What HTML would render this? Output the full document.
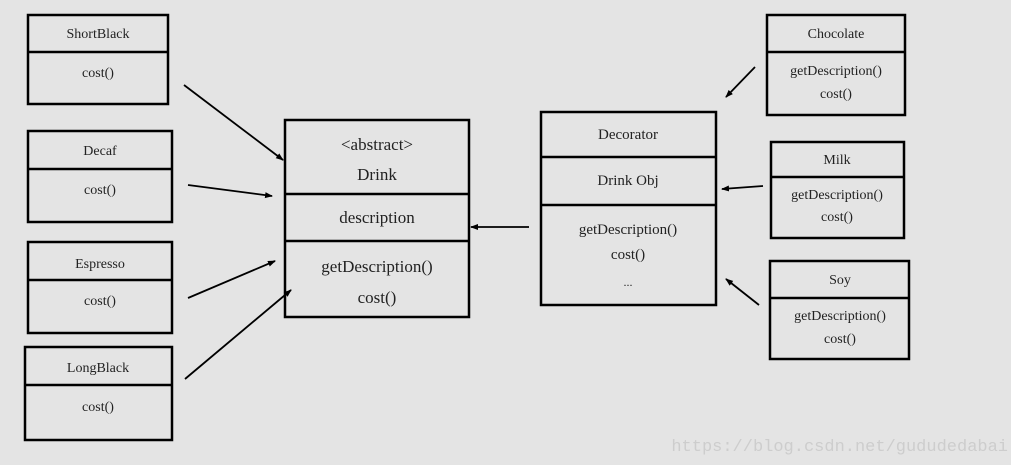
<!DOCTYPE html>
<html><head><meta charset="utf-8"><style>
html,body{margin:0;padding:0;background:#e4e4e4;}
svg{display:block}
text{font-family:"Liberation Serif",serif;fill:#222;text-anchor:middle}
</style></head><body>
<svg width="1011" height="465" viewBox="0 0 1011 465" xmlns="http://www.w3.org/2000/svg">
<rect width="1011" height="465" fill="#e4e4e4"/>
<defs><marker id="a" markerWidth="8" markerHeight="8" refX="7" refY="4" orient="auto" markerUnits="userSpaceOnUse"><path d="M0,1 L8,4 L0,7 Z" fill="#000"/></marker></defs>
<g fill="none" stroke="#000" stroke-width="2.5">
<rect x="28" y="15" width="140" height="89"/><line x1="28" y1="52" x2="168" y2="52"/>
<rect x="28" y="131" width="144" height="91"/><line x1="28" y1="169" x2="172" y2="169"/>
<rect x="28" y="242" width="144" height="91"/><line x1="28" y1="280" x2="172" y2="280"/>
<rect x="25" y="347" width="147" height="93"/><line x1="25" y1="385" x2="172" y2="385"/>
<rect x="285" y="120" width="184" height="197"/><line x1="285" y1="194" x2="469" y2="194"/><line x1="285" y1="241" x2="469" y2="241"/>
<rect x="541" y="112" width="175" height="193"/><line x1="541" y1="157" x2="716" y2="157"/><line x1="541" y1="205" x2="716" y2="205"/>
<rect x="767" y="15" width="138" height="100"/><line x1="767" y1="52" x2="905" y2="52"/>
<rect x="771" y="142" width="133" height="96"/><line x1="771" y1="177" x2="904" y2="177"/>
<rect x="770" y="261" width="139" height="98"/><line x1="770" y1="298" x2="909" y2="298"/>
</g>
<g stroke="#000" stroke-width="1.8" marker-end="url(#a)">
<line x1="184" y1="85" x2="283" y2="160"/>
<line x1="188" y1="185" x2="272" y2="196"/>
<line x1="188" y1="298" x2="275" y2="261"/>
<line x1="185" y1="379" x2="291" y2="290"/>
<line x1="529" y1="227" x2="471" y2="227"/>
<line x1="755" y1="67" x2="726" y2="97"/>
<line x1="763" y1="186" x2="722" y2="189"/>
<line x1="759" y1="305" x2="726" y2="279"/>
</g>
<g font-size="14">
<text x="98" y="38">ShortBlack</text><text x="98" y="77">cost()</text>
<text x="100" y="155">Decaf</text><text x="100" y="194">cost()</text>
<text x="100" y="268">Espresso</text><text x="100" y="305">cost()</text>
<text x="98" y="372">LongBlack</text><text x="98" y="411">cost()</text>
<text x="836" y="38">Chocolate</text><text x="836" y="75">getDescription()</text><text x="836" y="98">cost()</text>
<text x="837" y="164">Milk</text><text x="837" y="199">getDescription()</text><text x="837" y="221">cost()</text>
<text x="840" y="284">Soy</text><text x="840" y="320">getDescription()</text><text x="840" y="343">cost()</text>
</g>
<g font-size="17">
<text x="377" y="150">&lt;abstract&gt;</text><text x="377" y="180">Drink</text>
<text x="377" y="223">description</text>
<text x="377" y="272">getDescription()</text><text x="377" y="303">cost()</text>
</g>
<g font-size="15">
<text x="628" y="139">Decorator</text><text x="628" y="185">Drink Obj</text>
<text x="628" y="234">getDescription()</text><text x="628" y="259">cost()</text><text x="628" y="286" font-size="12">...</text>
</g>
<text x="1008" y="451" font-size="17" style="text-anchor:end;fill:#cdcdcd;font-family:'Liberation Mono',monospace">https://blog.csdn.net/gududedabai</text>
</svg>
</body></html>
